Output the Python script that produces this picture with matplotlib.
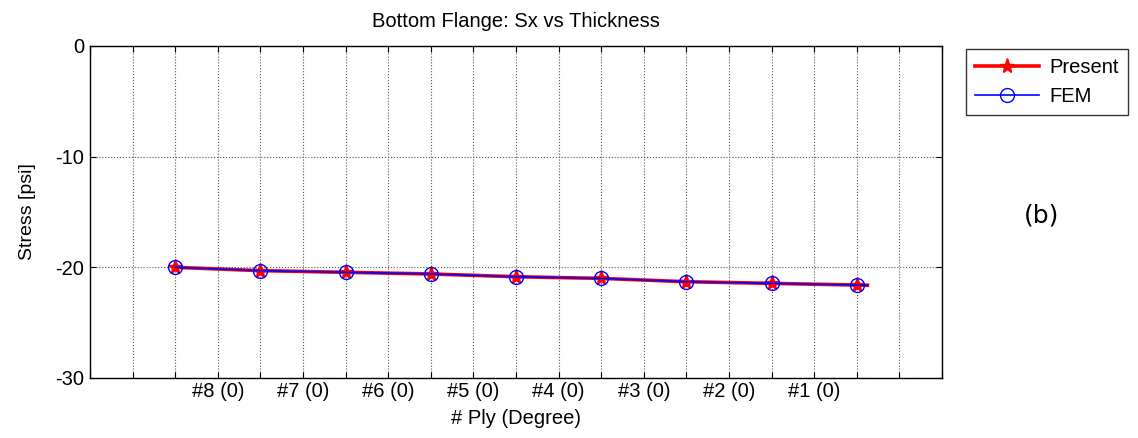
import numpy as np
import matplotlib.pyplot as plt

plt.rcParams["font.family"] = ["Liberation Sans", "DejaVu Sans"]
plt.rcParams["axes.unicode_minus"] = False

# --- Data ---
ply_pos = [2, 4, 6, 8, 10, 12, 14, 16, 18, 18.25]
present = [-20.0, -20.3, -20.45, -20.6, -20.85, -21.0, -21.3, -21.45, -21.6, -21.62]
fem = [-20.0, -20.3, -20.45, -20.6, -20.85, -21.0, -21.3, -21.45, -21.6, -21.62]
ply_labels = ["#8 (0)", "#7 (0)", "#6 (0)", "#5 (0)", "#4 (0)", "#3 (0)", "#2 (0)", "#1 (0)"]
label_pos = [3, 5, 7, 9, 11, 13, 15, 17]

fig = plt.figure(figsize=(11.38, 4.38), dpi=100)
ax = fig.add_axes([0.0791, 0.137, 0.7487, 0.758])

marks = list(range(len(ply_pos) - 1))
ax.plot(ply_pos, present, color="#ff0000", lw=2.6, marker="*", ms=11,
        markevery=marks, mec="#ff0000", mfc="#ff0000", label="Present", zorder=3)
ax.plot(ply_pos, fem, color="#0000ff", lw=1.2, marker="o", ms=10,
        markevery=marks, mec="#0000ff", mfc="none", label="FEM", zorder=4)

ax.set_xlim(0, 20)
ax.set_ylim(-30, 0)
ax.set_yticks([0, -10, -20, -30])
ax.set_xticks(range(0, 21))
tick_text = [""] * 21
for p, lab in zip(label_pos, ply_labels):
    tick_text[p] = lab
ax.set_xticklabels(tick_text)
ax.tick_params(direction="in", top=True, right=True, labelsize=14.5, length=4, pad=4)
ax.tick_params(axis="x", pad=3)
ax.grid(True, color="#555555", linestyle=":", linewidth=0.8)
for s in ax.spines.values():
    s.set_linewidth(1.0)

ax.set_title("Bottom Flange: Sx vs Thickness", fontsize=14.5, pad=14)
ax.set_xlabel("# Ply (Degree)", fontsize=14.5, labelpad=6)
ax.set_ylabel("Stress [psi]", fontsize=14, labelpad=14)

leg = ax.legend(loc="upper left", bbox_to_anchor=(1.028, 0.991), fontsize=14.5,
                frameon=True, fancybox=False, edgecolor="black",
                handlelength=3.2, borderpad=0.45, labelspacing=0.5,
                handletextpad=0.5, borderaxespad=0)
leg.get_frame().set_linewidth(1.0)

fig.text(0.915, 0.509, "(b)", fontsize=18, ha="center", va="center",
         family="DejaVu Sans")

fig.savefig("out.png", dpi=100)
